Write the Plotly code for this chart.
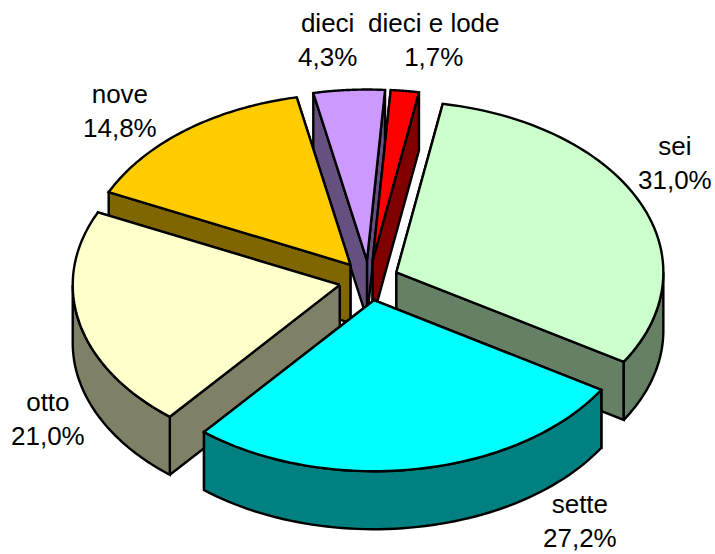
import math
import plotly.graph_objects as go

categories = ["sei", "sette", "otto", "nove", "dieci", "dieci e lode"]
values = [31.0, 27.2, 21.0, 14.8, 4.3, 1.7]
top_colors = ["#CCFFCC", "#00FFFF", "#FFFFCC", "#FFCC00", "#CC99FF", "#FF0000"]
side_colors = ["#668066", "#008080", "#808066", "#806600", "#665080", "#800000"]
label_x = [675, 580, 48, 120, 327, 434]
label_y = [163, 521, 419, 111, 40, 40]
draw_order = [4, 5, 3, 0, 2, 1]

W, H = 715, 554
CX, CY = 369, 280.5
RX, RY = 267, 171
EXPLODE_X, EXPLODE_Y = 30, 20
DEPTH = 58
START = 10.0
LW = 2.4


def pt(apex, deg, r=1.0):
    a = math.radians(deg)
    return apex[0] + RX * r * math.sin(a), apex[1] - RY * r * math.cos(a)


def arc(apex, a0, a1, n=60):
    return [pt(apex, a0 + (a1 - a0) * i / n) for i in range(n + 1)]


def down(points):
    return [(x, y + DEPTH) for x, y in points]


def poly(fig, points, color):
    xs = [p[0] for p in points] + [points[0][0]]
    ys = [p[1] for p in points] + [points[0][1]]
    fig.add_trace(go.Scatter(x=xs, y=ys, mode="lines", fill="toself", fillcolor=color,
                             line=dict(color="black", width=LW, simplify=False), hoverinfo="skip",
                             showlegend=False))


spans = []
angle = START
for v in values:
    span = v / sum(values) * 360
    spans.append((angle, angle + span))
    angle += span

fig = go.Figure()
for i in draw_order:
    a0, a1 = spans[i]
    mid = math.radians((a0 + a1) / 2)
    apex = (CX + EXPLODE_X * math.sin(mid), CY - EXPLODE_Y * math.cos(mid))
    # cut faces that look away from the viewer first, the rest after them
    faces = [(a0, -math.sin(math.radians(a0))), (a1, math.sin(math.radians(a1)))]
    faces.sort(key=lambda f: f[1])
    for ang, facing in faces:
        rim = pt(apex, ang)
        quad = [apex, rim, (rim[0], rim[1] + DEPTH), (apex[0], apex[1] + DEPTH)]
        poly(fig, quad, side_colors[i])
    # visible part of the outer wall: the front half of the rim
    lo, hi = max(a0, 90), min(a1, 270)
    if hi > lo:
        rim = arc(apex, lo, hi)
        poly(fig, rim + down(rim)[::-1], side_colors[i])
    poly(fig, [apex] + arc(apex, a0, a1), top_colors[i])

for name, v, x, y in zip(categories, values, label_x, label_y):
    fig.add_annotation(x=x, y=y, text=f"{name}<br>{v:.1f}%".replace(".", ","), showarrow=False,
                       xanchor="center", yanchor="middle",
                       font=dict(family="Liberation Sans, Arial, sans-serif", size=26, color="black"))

fig.update_xaxes(range=[0, W], visible=False, fixedrange=True)
fig.update_yaxes(range=[H, 0], visible=False, fixedrange=True)
fig.update_layout(width=W, height=H, margin=dict(l=0, r=0, t=0, b=0),
                  paper_bgcolor="white", plot_bgcolor="white", showlegend=False)
fig.write_html("out.html", config={"displayModeBar": False},
               post_script="document.body.style.margin='0';document.body.style.overflow='hidden';")
